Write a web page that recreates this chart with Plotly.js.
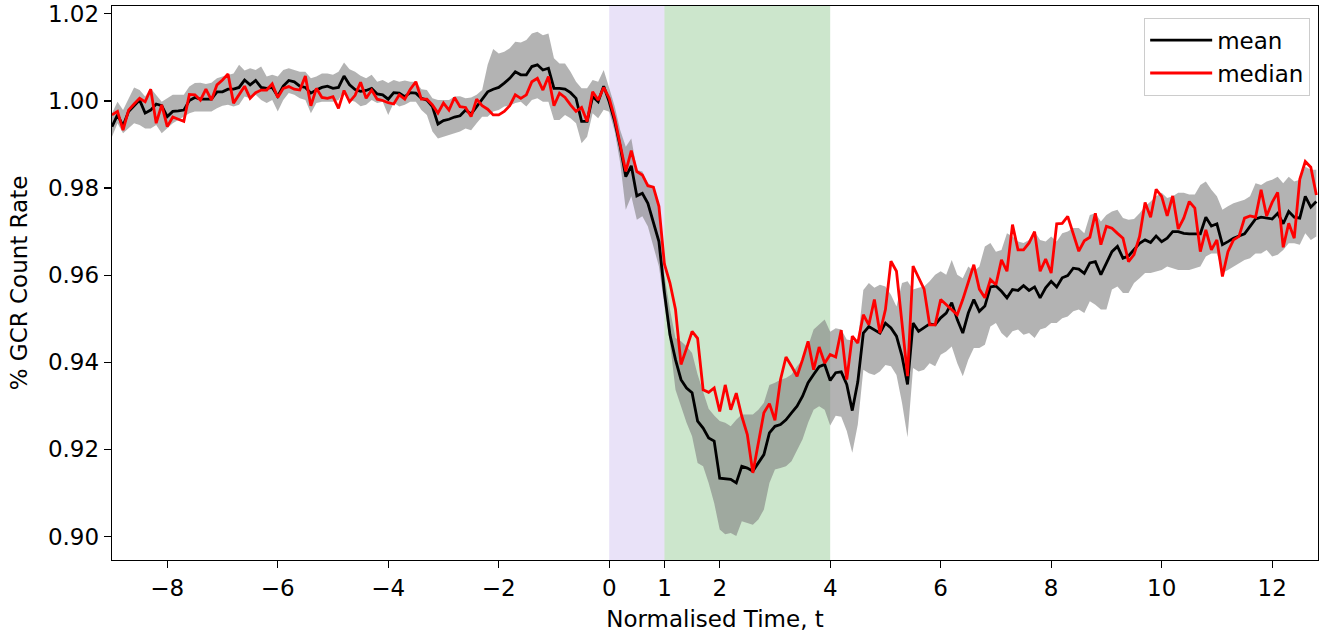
<!DOCTYPE html>
<html>
<head>
<meta charset="utf-8">
<script src="https://cdn.plot.ly/plotly-3.0.1.min.js"></script>
<style>html,body{margin:0;padding:0;background:#fff;}#chart{width:1325px;height:632px;}</style>
</head>
<body>
<div id="chart"></div>
<script>
const timeT = [-9.0,-8.9,-8.8,-8.7,-8.6,-8.5,-8.4,-8.3,-8.2,-8.1,-8.0,-7.9,-7.8,-7.7,-7.6,-7.5,-7.4,-7.3,-7.2,-7.1,
-7.0,-6.9,-6.8,-6.7,-6.6,-6.5,-6.4,-6.3,-6.2,-6.1,-6.0,-5.9,-5.8,-5.7,-5.6,-5.5,-5.4,-5.3,-5.2,-5.1,
-5.0,-4.9,-4.8,-4.7,-4.6,-4.5,-4.4,-4.3,-4.2,-4.1,-4.0,-3.9,-3.8,-3.7,-3.6,-3.5,-3.4,-3.3,-3.2,-3.1,
-3.0,-2.9,-2.8,-2.7,-2.6,-2.5,-2.4,-2.3,-2.2,-2.1,-2.0,-1.9,-1.8,-1.7,-1.6,-1.5,-1.4,-1.3,-1.2,-1.1,
-1.0,-0.9,-0.8,-0.7,-0.6,-0.5,-0.4,-0.3,-0.2,-0.1,0.0,0.1,0.2,0.3,0.4,0.5,0.6,0.7,0.8,0.9,
1.0,1.1,1.2,1.3,1.4,1.5,1.6,1.7,1.8,1.9,2.0,2.1,2.2,2.3,2.4,2.5,2.6,2.7,2.8,2.9,
3.0,3.1,3.2,3.3,3.4,3.5,3.6,3.7,3.8,3.9,4.0,4.1,4.2,4.3,4.4,4.5,4.6,4.7,4.8,4.9,
5.0,5.1,5.2,5.3,5.4,5.5,5.6,5.7,5.8,5.9,6.0,6.1,6.2,6.3,6.4,6.5,6.6,6.7,6.8,6.9,
7.0,7.1,7.2,7.3,7.4,7.5,7.6,7.7,7.8,7.9,8.0,8.1,8.2,8.3,8.4,8.5,8.6,8.7,8.8,8.9,
9.0,9.1,9.2,9.3,9.4,9.5,9.6,9.7,9.8,9.9,10.0,10.1,10.2,10.3,10.4,10.5,10.6,10.7,10.8,10.9,
11.0,11.1,11.2,11.3,11.4,11.5,11.6,11.7,11.8,11.9,12.0,12.1,12.2,12.3,12.4,12.5,12.6,12.7,12.8];

const meanRate = [0.9941,0.9968,0.9943,0.9976,0.9989,1.0002,0.9972,0.9979,0.9993,0.9989,
0.9964,0.9976,0.9977,0.9979,1.0001,1.0008,1.0004,1.0004,1.0004,1.0021,
1.0021,1.0027,1.0027,1.0031,1.0048,1.0037,1.0047,1.0031,1.0029,1.0031,
1.0011,1.0034,1.0047,1.0044,1.0034,1.0031,1.0018,1.0025,1.0031,1.0034,
1.0029,1.0031,1.0057,1.0037,1.0026,1.0022,1.0024,1.0029,1.0016,1.0014,
1.0004,1.0019,1.0018,1.0010,1.0019,1.0018,1.0006,1.0002,0.9987,0.9947,
0.9955,0.9958,0.9963,0.9966,0.9979,0.9970,0.9987,1.0002,1.0021,1.0027,
1.0031,1.0041,1.0052,1.0067,1.0060,1.0060,1.0079,1.0083,1.0071,1.0075,
1.0029,1.0029,1.0027,1.0019,1.0006,0.9953,0.9953,1.0010,0.9998,1.0034,
0.9998,0.9953,0.9895,0.9826,0.9851,0.9782,0.9788,0.9765,0.9723,0.9677,
0.9560,0.9463,0.9406,0.9360,0.9341,0.9330,0.9265,0.9249,0.9226,0.9219,
0.9134,0.9132,0.9131,0.9123,0.9161,0.9157,0.9150,0.9169,0.9188,0.9238,
0.9253,0.9257,0.9268,0.9284,0.9299,0.9322,0.9353,0.9372,0.9390,0.9395,
0.9358,0.9376,0.9378,0.9349,0.9289,0.9355,0.9467,0.9482,0.9475,0.9467,
0.9490,0.9479,0.9460,0.9414,0.9349,0.9490,0.9471,0.9479,0.9488,0.9486,
0.9502,0.9513,0.9537,0.9498,0.9467,0.9513,0.9544,0.9517,0.9529,0.9573,
0.9575,0.9563,0.9548,0.9567,0.9565,0.9576,0.9565,0.9573,0.9548,0.9571,
0.9586,0.9573,0.9594,0.9599,0.9616,0.9614,0.9604,0.9628,0.9631,0.9601,
0.9628,0.9654,0.9666,0.9639,0.9644,0.9658,0.9673,0.9681,0.9675,0.9690,
0.9677,0.9685,0.9700,0.9700,0.9696,0.9695,0.9695,0.9695,0.9733,0.9713,
0.9718,0.9670,0.9677,0.9685,0.9690,0.9695,0.9712,0.9729,0.9733,0.9731,
0.9729,0.9742,0.9718,0.9746,0.9733,0.9731,0.9781,0.9756,0.9769];

const medianRate = [0.9968,0.9976,0.9933,0.9979,0.9993,1.0006,0.9998,1.0027,0.9949,0.9991,
0.9941,0.9963,0.9958,0.9953,1.0015,1.0014,1.0002,1.0027,1.0002,1.0037,
1.0048,1.0062,0.9995,1.0014,1.0034,1.0006,1.0019,1.0025,1.0025,1.0039,
1.0008,1.0029,1.0033,1.0027,1.0025,1.0057,0.9989,1.0029,1.0008,1.0006,
1.0010,0.9983,1.0024,0.9998,1.0013,1.0043,1.0006,1.0025,1.0004,1.0001,
0.9996,0.9993,1.0014,1.0004,1.0027,1.0044,1.0004,1.0004,0.9991,0.9972,
0.9995,0.9979,1.0008,0.9987,0.9985,0.9964,1.0004,0.9989,0.9981,0.9968,
0.9968,0.9976,0.9989,1.0014,1.0006,1.0014,1.0044,1.0052,1.0025,1.0056,
0.9989,1.0018,1.0008,0.9991,0.9976,0.9985,0.9953,1.0021,1.0002,1.0031,
1.0006,0.9960,0.9899,0.9838,0.9886,0.9838,0.9830,0.9805,0.9802,0.9758,
0.9625,0.9582,0.9521,0.9395,0.9432,0.9471,0.9455,0.9337,0.9331,0.9341,
0.9287,0.9348,0.9291,0.9329,0.9276,0.9234,0.9146,0.9219,0.9284,0.9305,
0.9267,0.9360,0.9412,0.9391,0.9368,0.9406,0.9448,0.9383,0.9435,0.9398,
0.9418,0.9412,0.9474,0.9360,0.9460,0.9444,0.9509,0.9486,0.9544,0.9467,
0.9521,0.9632,0.9609,0.9490,0.9368,0.9621,0.9593,0.9568,0.9486,0.9486,
0.9544,0.9532,0.9521,0.9509,0.9544,0.9582,0.9624,0.9568,0.9548,0.9590,
0.9578,0.9635,0.9609,0.9716,0.9658,0.9658,0.9674,0.9700,0.9609,0.9637,
0.9605,0.9718,0.9719,0.9735,0.9696,0.9655,0.9679,0.9687,0.9742,0.9670,
0.9712,0.9708,0.9696,0.9685,0.9631,0.9647,0.9689,0.9767,0.9733,0.9797,
0.9781,0.9736,0.9782,0.9706,0.9731,0.9769,0.9754,0.9654,0.9704,0.9658,
0.9681,0.9597,0.9654,0.9681,0.9689,0.9731,0.9736,0.9733,0.9796,0.9736,
0.9767,0.9790,0.9664,0.9719,0.9685,0.9820,0.9861,0.9848,0.9784];

const bandUpper = [0.9972,0.9998,0.9979,1.0006,1.0031,1.0025,1.0010,1.0029,1.0014,0.9998,
1.0006,1.0014,1.0014,1.0014,1.0033,1.0041,1.0042,1.0039,1.0042,1.0052,
1.0056,1.0060,1.0063,1.0083,1.0070,1.0075,1.0071,1.0079,1.0056,1.0060,
1.0056,1.0071,1.0075,1.0071,1.0067,1.0067,1.0052,1.0056,1.0063,1.0063,
1.0060,1.0067,1.0088,1.0073,1.0067,1.0058,1.0052,1.0060,1.0044,1.0048,
1.0041,1.0048,1.0044,1.0047,1.0044,1.0044,1.0027,1.0025,1.0006,1.0002,
1.0002,1.0002,1.0010,1.0011,1.0006,1.0008,1.0014,1.0025,1.0083,1.0119,
1.0109,1.0113,1.0121,1.0136,1.0134,1.0140,1.0155,1.0159,1.0151,1.0155,
1.0098,1.0086,1.0086,1.0067,1.0044,1.0029,1.0029,1.0048,1.0044,1.0071,
1.0030,0.9987,0.9933,0.9895,0.9914,0.9842,0.9838,0.9811,0.9804,0.9765,
0.9600,0.9521,0.9456,0.9448,0.9437,0.9421,0.9372,0.9330,0.9293,0.9278,
0.9265,0.9261,0.9253,0.9268,0.9280,0.9280,0.9280,0.9291,0.9307,0.9348,
0.9353,0.9360,0.9364,0.9372,0.9391,0.9406,0.9437,0.9475,0.9486,0.9498,
0.9470,0.9478,0.9475,0.9452,0.9450,0.9448,0.9566,0.9582,0.9571,0.9578,
0.9574,0.9555,0.9528,0.9582,0.9586,0.9567,0.9571,0.9574,0.9586,0.9601,
0.9609,0.9601,0.9635,0.9601,0.9593,0.9620,0.9609,0.9620,0.9666,0.9674,
0.9654,0.9658,0.9696,0.9689,0.9677,0.9674,0.9681,0.9700,0.9681,0.9677,
0.9689,0.9677,0.9696,0.9700,0.9708,0.9708,0.9696,0.9738,0.9742,0.9723,
0.9738,0.9746,0.9750,0.9731,0.9727,0.9729,0.9742,0.9758,0.9769,0.9781,
0.9789,0.9777,0.9781,0.9789,0.9789,0.9785,0.9785,0.9807,0.9815,0.9796,
0.9781,0.9750,0.9758,0.9765,0.9769,0.9773,0.9781,0.9811,0.9807,0.9815,
0.9819,0.9826,0.9811,0.9826,0.9815,0.9819,0.9849,0.9842,0.9842];

const bandLower = [0.9918,0.9949,0.9926,0.9937,0.9949,0.9945,0.9937,0.9937,0.9945,0.9926,
0.9937,0.9949,0.9956,0.9964,0.9972,0.9976,0.9976,0.9976,0.9976,0.9983,
0.9989,0.9991,0.9987,0.9991,1.0010,1.0006,1.0014,1.0002,0.9995,1.0002,
0.9976,1.0002,1.0018,1.0014,1.0006,1.0002,0.9972,0.9995,0.9998,0.9998,
0.9998,1.0002,1.0025,1.0002,0.9998,0.9988,0.9991,1.0002,0.9995,0.9998,
0.9968,0.9996,0.9987,0.9991,0.9998,0.9998,0.9979,0.9968,0.9930,0.9914,
0.9918,0.9922,0.9926,0.9930,0.9937,0.9933,0.9949,0.9964,0.9964,0.9976,
0.9979,0.9987,0.9989,0.9995,0.9998,0.9987,1.0002,1.0006,0.9998,0.9998,
0.9956,0.9956,0.9968,0.9960,0.9949,0.9903,0.9918,0.9972,0.9960,0.9980,
0.9975,0.9930,0.9857,0.9750,0.9781,0.9727,0.9735,0.9712,0.9666,0.9620,
0.9530,0.9444,0.9337,0.9299,0.9261,0.9230,0.9169,0.9161,0.9123,0.9077,
0.9016,0.9005,0.9008,0.9001,0.9035,0.9031,0.9027,0.9039,0.9062,0.9123,
0.9154,0.9157,0.9161,0.9173,0.9200,0.9223,0.9261,0.9291,0.9299,0.9291,
0.9255,0.9277,0.9275,0.9242,0.9192,0.9257,0.9383,0.9375,0.9371,0.9379,
0.9394,0.9391,0.9371,0.9307,0.9228,0.9387,0.9379,0.9383,0.9398,0.9391,
0.9417,0.9425,0.9436,0.9398,0.9368,0.9406,0.9433,0.9433,0.9440,0.9482,
0.9490,0.9467,0.9456,0.9471,0.9475,0.9463,0.9467,0.9456,0.9475,0.9479,
0.9490,0.9490,0.9501,0.9505,0.9517,0.9521,0.9513,0.9540,0.9532,0.9521,
0.9521,0.9567,0.9574,0.9559,0.9559,0.9582,0.9593,0.9605,0.9605,0.9609,
0.9612,0.9620,0.9616,0.9612,0.9612,0.9612,0.9616,0.9620,0.9643,0.9650,
0.9650,0.9605,0.9612,0.9620,0.9628,0.9635,0.9639,0.9650,0.9650,0.9658,
0.9643,0.9647,0.9658,0.9673,0.9673,0.9670,0.9696,0.9681,0.9689];

const phaseSpans = [[0, 1], [1, 4]];
const phaseColors = ['rgba(147,112,219,0.2)', 'rgba(0,128,0,0.2)'];
const xTickVals = [-8, -6, -4, -2, 0, 1, 2, 4, 6, 8, 10, 12];
const xTickText = ['\u22128', '\u22126', '\u22124', '\u22122', '0', '1', '2', '4', '6', '8', '10', '12'];
const yTickVals = [0.90, 0.92, 0.94, 0.96, 0.98, 1.00, 1.02];
const yTickText = ['0.90', '0.92', '0.94', '0.96', '0.98', '1.00', '1.02'];

const FONT = 'DejaVu Sans, sans-serif';
const FS = 23;

const traces = [
  {x: timeT, y: bandLower, type: 'scatter', mode: 'lines', line: {width: 0, color: 'rgba(0,0,0,0)'}, showlegend: false, hoverinfo: 'skip'},
  {x: timeT, y: bandUpper, type: 'scatter', mode: 'lines', line: {width: 0, color: 'rgba(0,0,0,0)'}, fill: 'tonexty', fillcolor: 'rgba(128,128,128,0.6)', showlegend: false, hoverinfo: 'skip'},
  {x: timeT, y: meanRate, type: 'scatter', mode: 'lines', name: 'mean', line: {color: '#000000', width: 2.8}},
  {x: timeT, y: medianRate, type: 'scatter', mode: 'lines', name: 'median', line: {color: '#ff0000', width: 2.8}}
];

const shapes = phaseSpans.map((s, k) => ({
  type: 'rect', xref: 'x', yref: 'paper', x0: s[0], x1: s[1], y0: 0, y1: 1,
  fillcolor: phaseColors[k], line: {width: 0}, layer: 'below'
}));

const layout = {
  width: 1325, height: 632,
  margin: {l: 112, r: 7, t: 6, b: 72},
  paper_bgcolor: '#ffffff', plot_bgcolor: '#ffffff',
  font: {family: FONT, size: FS, color: '#000'},
  showlegend: true,
  legend: {x: 0.9935, y: 0.979, xanchor: 'right', yanchor: 'top', bgcolor: 'rgba(255,255,255,0.8)',
           bordercolor: '#cccccc', borderwidth: 1, font: {family: FONT, size: FS, color: '#000'},
           traceorder: 'normal', tracegroupgap: 0, itemwidth: 62},
  xaxis: {
    range: [-9, 12.83], tickmode: 'array', tickvals: xTickVals, ticktext: xTickText,
    ticks: 'outside', ticklen: 7, tickwidth: 1.3, tickcolor: '#000',
    showline: true, linecolor: '#000', linewidth: 1.3, mirror: true,
    showgrid: false, zeroline: false,
    tickfont: {family: FONT, size: FS, color: '#000'},
    title: {text: 'Normalised Time, t', font: {family: FONT, size: FS, color: '#000'}, standoff: 13},
    automargin: false
  },
  yaxis: {
    range: [0.8946, 1.0218], tickmode: 'array', tickvals: yTickVals, ticktext: yTickText,
    ticks: 'outside', ticklen: 7, tickwidth: 1.3, tickcolor: '#000',
    showline: true, linecolor: '#000', linewidth: 1.3, mirror: true,
    showgrid: false, zeroline: false,
    tickfont: {family: FONT, size: FS, color: '#000'},
    title: {text: '% GCR Count Rate', font: {family: FONT, size: FS, color: '#000'}, standoff: 13},
    automargin: false
  },
  shapes: shapes
};

Plotly.newPlot('chart', traces, layout, {staticPlot: true, displayModeBar: false});
</script>
</body>
</html>
